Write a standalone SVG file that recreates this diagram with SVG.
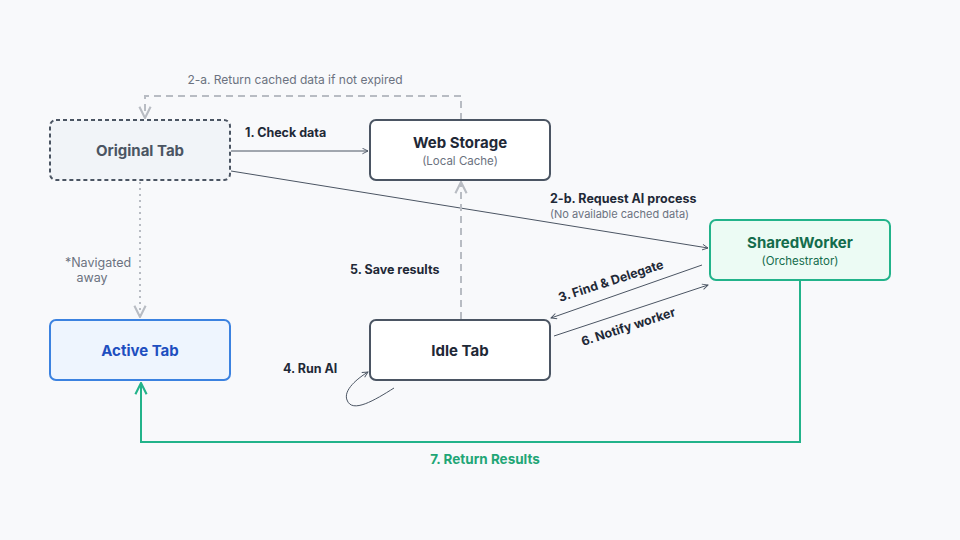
<svg xmlns="http://www.w3.org/2000/svg" width="960" height="540" viewBox="0 0 960 540">
<style>
text{font-family:Inter,"Liberation Sans",sans-serif}
.t{font-size:15px;font-weight:700;fill:#1f2937;text-anchor:middle}
.s{font-size:11.5px;fill:#6b7280;text-anchor:middle}
.l{font-size:12.5px;font-weight:700;fill:#1f2937}
.g{font-size:12px;fill:#6b7280}
.ln{fill:none;stroke:#4b5563;stroke-width:1}
</style>
<defs>
<marker id="a" viewBox="0 0 10 10" refX="9" refY="5" markerWidth="7" markerHeight="7" orient="auto-start-reverse"><path d="M1,1 L9,5 L1,9" fill="none" stroke="#4b5563" stroke-width="1.3"/></marker>
<marker id="ag" viewBox="0 0 10 10" refX="9" refY="5" markerWidth="7" markerHeight="7" orient="auto"><path d="M1,1 L9,5 L1,9" fill="none" stroke="#b8bcc3" stroke-width="1.5"/></marker>
<marker id="agr" viewBox="0 0 10 10" refX="9" refY="5" markerWidth="7" markerHeight="7" orient="auto"><path d="M1,1 L9,5 L1,9" fill="none" stroke="#22b38a" stroke-width="1.5"/></marker>
</defs>
<rect width="960" height="540" fill="#f8f9fb"/>
<g id="connectors">
<path class="ln" d="M231,151 L368,151" marker-end="url(#a)"/>
<path d="M461,120 V96 H145 V118" fill="none" stroke="#b8bcc3" stroke-width="2" stroke-dasharray="7,5" marker-end="url(#ag)"/>
<path class="ln" d="M231,171 L708,248" marker-end="url(#a)"/>
<path class="ln" d="M702,265 L551,318" marker-end="url(#a)"/>
<path class="ln" d="M554,336 L708,285" marker-end="url(#a)"/>
<path d="M461,319 V182" fill="none" stroke="#b8bcc3" stroke-width="2" stroke-dasharray="7,5" marker-end="url(#ag)"/>
<path class="ln" d="M394,388 C375,400 352,414 347,400 C343,390 358,378 368,372" marker-end="url(#a)"/>
<path d="M140,182 V317" fill="none" stroke="#b8bcc3" stroke-width="2" stroke-dasharray="2,4" marker-end="url(#ag)"/>
<path d="M800,280 V442 H141 V383" fill="none" stroke="#22b38a" stroke-width="2" marker-end="url(#agr)"/>
<text x="295" y="84" class="g" text-anchor="middle">2-a. Return cached data if not expired</text>
<text x="245" y="137" class="l">1. Check data</text>
<text x="550" y="203" class="l">2-b. Request AI process</text>
<text x="550" y="218" class="g" style="font-size:11px">(No available cached data)</text>
<text x="350" y="274" class="l">5. Save results</text>
<text class="l" transform="translate(560,302) rotate(-18)">3. Find &amp; Delegate</text>
<text class="l" transform="translate(583,346) rotate(-18)">6. Notify worker</text>
<text x="283" y="373" class="l">4. Run AI</text>
<text x="98" y="267" class="g" text-anchor="middle" style="font-size:12.5px">*Navigated</text>
<text x="92" y="282" class="g" text-anchor="middle" style="font-size:12.5px">away</text>
<text x="485" y="464" class="l" text-anchor="middle" style="fill:#1fa676;font-size:13.5px">7. Return Results</text>
</g>
<g id="original-tab"><rect x="50" y="120" width="180" height="60" rx="6" fill="#f1f4f8" stroke="#4b5563" stroke-width="2" stroke-dasharray="4,3"/><text x="140" y="156" class="t" style="fill:#4b5563">Original Tab</text></g>
<g id="web-storage"><rect x="370" y="120" width="180" height="60" rx="6" fill="#fff" stroke="#4b5563" stroke-width="2"/><text x="460" y="148" class="t">Web Storage</text><text x="460" y="165" class="s">(Local Cache)</text></g>
<g id="shared-worker"><rect x="710" y="220" width="180" height="60" rx="6" fill="#ecfbf4" stroke="#22b38a" stroke-width="2"/><text x="800" y="248" class="t" style="fill:#146c4c">SharedWorker</text><text x="800" y="265" class="s" style="fill:#146c4c">(Orchestrator)</text></g>
<g id="active-tab"><rect x="50" y="320" width="180" height="60" rx="6" fill="#eef5fe" stroke="#3b82e0" stroke-width="2"/><text x="140" y="356" class="t" style="fill:#1e4fc0">Active Tab</text></g>
<g id="idle-tab"><rect x="370" y="320" width="180" height="60" rx="6" fill="#fff" stroke="#4b5563" stroke-width="2"/><text x="460" y="356" class="t">Idle Tab</text></g>
</svg>
